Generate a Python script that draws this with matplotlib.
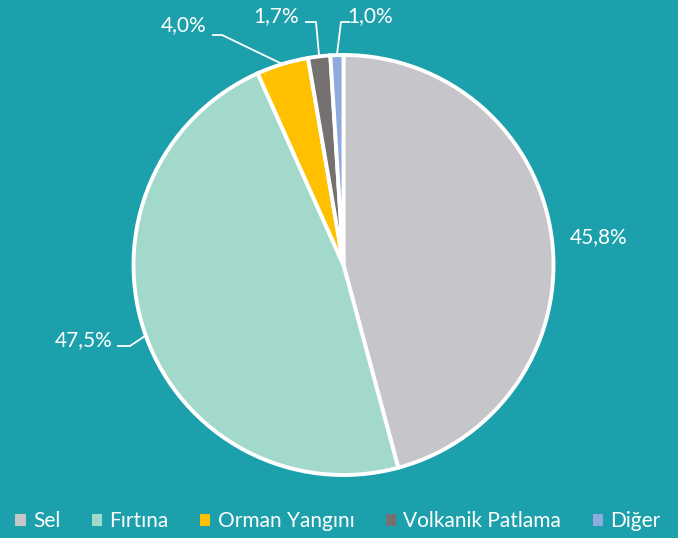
import matplotlib
matplotlib.use("Agg")
import matplotlib.pyplot as plt
import numpy as np

categories = ["Sel", "Fırtına", "Orman Yangını", "Volkanik Patlama", "Diğer"]
values = [45.8, 47.5, 4.0, 1.7, 1.0]
labels = ["45,8%", "47,5%", "4,0%", "1,7%", "1,0%"]
colors = ["#C6C6CA", "#A3D9CB", "#FFC000", "#767171", "#8FAADC"]
bg = "#1CA0AB"

W, H = 678, 538
fig = plt.figure(figsize=(W / 100, H / 100), dpi=100, facecolor=bg)
ax = fig.add_axes([0, 0, 1, 1])
ax.set_facecolor(bg)
ax.set_xlim(0, W)
ax.set_ylim(0, H)
ax.set_aspect("equal")
ax.axis("off")

cx, cy, R = 343.5, H - 265, 210
wedges, _ = ax.pie(values, colors=colors, startangle=90, counterclock=False,
                   center=(cx, cy), radius=R, frame=False,
                   wedgeprops=dict(edgecolor="white", linewidth=2.8))
ax.set_xlim(0, W)
ax.set_ylim(0, H)

font = "Lato"
fs = 15
# label layouts: (elbow point, end point, text position) in pixel coords (y from top)
layouts = [
    (None, None, (599, 237)),
    ((130, 346), (117, 346), (84, 340)),
    ((222, 35), (212, 35), (184, 25)),
    ((316, 22), (305, 22), (276, 16)),
    ((341, 22), (350, 22), (370, 16)),
]
for w, lab, (elb, end, tp) in zip(wedges, labels, layouts):
    ang = np.deg2rad((w.theta1 + w.theta2) / 2)
    if elb is not None:
        sx, sy = cx + R * np.cos(ang), cy + R * np.sin(ang)
        ax.plot([sx, elb[0], end[0]], [sy, H - elb[1], H - end[1]],
                color="white", lw=1.3, solid_capstyle="butt")
    ax.text(tp[0], H - tp[1], lab, color="white", fontsize=fs,
            family=font, ha="center", va="center")

leg = ax.legend(wedges, categories, loc="center", bbox_to_anchor=(338 / W, 1 - 521 / H),
                ncol=5, frameon=False, handlelength=0.5,
                handleheight=0.5, handletextpad=0.35, columnspacing=1.5,
                borderpad=0, borderaxespad=0,
                prop=dict(family=font, size=fs))
for t in leg.get_texts():
    t.set_color("white")
for h in leg.legend_handles:
    h.set_edgecolor("none")

fig.savefig("out.png", dpi=100, facecolor=bg)
